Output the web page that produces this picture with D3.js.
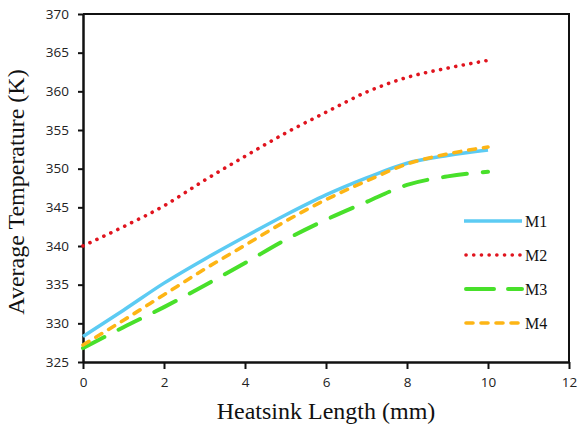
<!DOCTYPE html>
<html>
<head>
<meta charset="utf-8">
<script src="https://cdn.jsdelivr.net/npm/d3@7"></script>
<style>
  html, body { margin: 0; padding: 0; background: white; }
</style>
</head>
<body>
<svg id="chart" width="583" height="434"></svg>
<script>
// data
const lengths = [0, 1, 2, 3, 4, 5, 6, 7, 8, 9, 10];
const seriesNames = ["M1", "M2", "M3", "M4"];
const m1 = [328.3, 331.7, 335.2, 338.3, 341.2, 344.0, 346.6, 348.8, 350.7, 351.7, 352.4];
const m2 = [340.0, 342.5, 345.2, 348.5, 351.6, 354.6, 357.3, 359.9, 361.8, 363.0, 364.0];
const m3 = [326.8, 329.5, 332.1, 334.9, 337.8, 340.8, 343.4, 345.7, 347.9, 349.0, 349.6];
const m4 = [327.2, 330.4, 333.7, 337.0, 340.1, 343.2, 346.0, 348.4, 350.6, 351.9, 352.8];
const xTicks = [0, 2, 4, 6, 8, 10, 12];
const yTicks = [325, 330, 335, 340, 345, 350, 355, 360, 365, 370];

const styles = {
    M1: { color: "#5ccbf3", width: 3.5, dash: null, cap: "butt" },
    M2: { color: "#e0141e", width: 3.6, dash: "0.1,7.6", cap: "round" },
    M3: { color: "#48e02a", width: 4, dash: "24,16", cap: "round" },
    M4: { color: "#fdb515", width: 3.6, dash: "7,8", cap: "round" },
};

const margin = { top: 14, right: 14, bottom: 72, left: 83 };
const width = 583, height = 434;
const plotW = width - margin.left - margin.right;
const plotH = height - margin.top - margin.bottom;

const svg = d3.select("#chart");
const g = svg.append("g").attr("transform", `translate(${margin.left},${margin.top})`);

const x = d3.scaleLinear().domain([0, 12]).range([0, plotW]);
const y = d3.scaleLinear().domain([325, 370]).range([plotH, 0]);

const values = { M1: m1, M2: m2, M3: m3, M4: m4 };

// frame (top + right)
g.append("path")
    .attr("d", `M0,0H${plotW}V${plotH}`)
    .attr("fill", "none")
    .attr("stroke", "#111")
    .attr("stroke-width", 2);

// axes
const tickFont = "'Open Sans', 'Noto Sans', sans-serif";

const xAxis = g.append("g")
    .attr("transform", `translate(0,${plotH})`)
    .call(d3.axisBottom(x).tickValues(xTicks).tickSize(7).tickSizeOuter(0).tickPadding(8));
const yAxis = g.append("g")
    .call(d3.axisLeft(y).tickValues(yTicks).tickSize(5).tickSizeOuter(0).tickPadding(9));

[xAxis, yAxis].forEach(a => {
    a.select(".domain").attr("stroke", "#111").attr("stroke-width", 2.5);
    a.selectAll(".tick line").attr("stroke", "#111").attr("stroke-width", 2);
    a.selectAll(".tick text")
        .attr("fill", "#222")
        .style("font-family", tickFont)
        .style("font-size", "13.5px");
});

// lines
const line = d3.line()
    .x((d, i) => x(lengths[i]))
    .y(d => y(d))
    .curve(d3.curveMonotoneX);

const order = ["M2", "M3", "M1", "M4"];
order.forEach(name => {
    const s = styles[name];
    g.append("path")
        .datum(values[name])
        .attr("d", line)
        .attr("fill", "none")
        .attr("stroke", s.color)
        .attr("stroke-width", s.width)
        .attr("stroke-linecap", s.cap)
        .attr("stroke-dasharray", s.dash);
});

// legend
const legend = svg.append("g").attr("transform", "translate(464,221)");
seriesNames.forEach((name, i) => {
    const s = styles[name];
    const row = legend.append("g").attr("transform", `translate(0,${i * 34})`);
    row.append("line")
        .attr("x1", s.cap === "round" ? 2 : 0).attr("x2", 58)
        .attr("stroke", s.color)
        .attr("stroke-width", s.width)
        .attr("stroke-linecap", s.cap)
        .attr("stroke-dasharray", name === "M3" ? "28,14" : s.dash);
    row.append("text")
        .attr("x", 61)
        .attr("y", 6)
        .attr("fill", "#111")
        .style("font-family", "'Liberation Serif', 'DejaVu Serif', serif")
        .style("font-size", "16px")
        .text(name);
});

// axis titles
svg.append("text")
    .attr("x", margin.left + plotW / 2)
    .attr("y", 419)
    .attr("text-anchor", "middle")
    .attr("fill", "#111")
    .style("font-family", "'Liberation Serif', serif")
    .style("font-size", "24px")
    .text("Heatsink Length (mm)");

svg.append("text")
    .attr("transform", `translate(24,${margin.top + plotH / 2 + 4}) rotate(-90)`)
    .attr("text-anchor", "middle")
    .attr("fill", "#111")
    .style("font-family", "'Liberation Serif', serif")
    .style("font-size", "24px")
    .text("Average Temperature (K)");
</script>
</body>
</html>
